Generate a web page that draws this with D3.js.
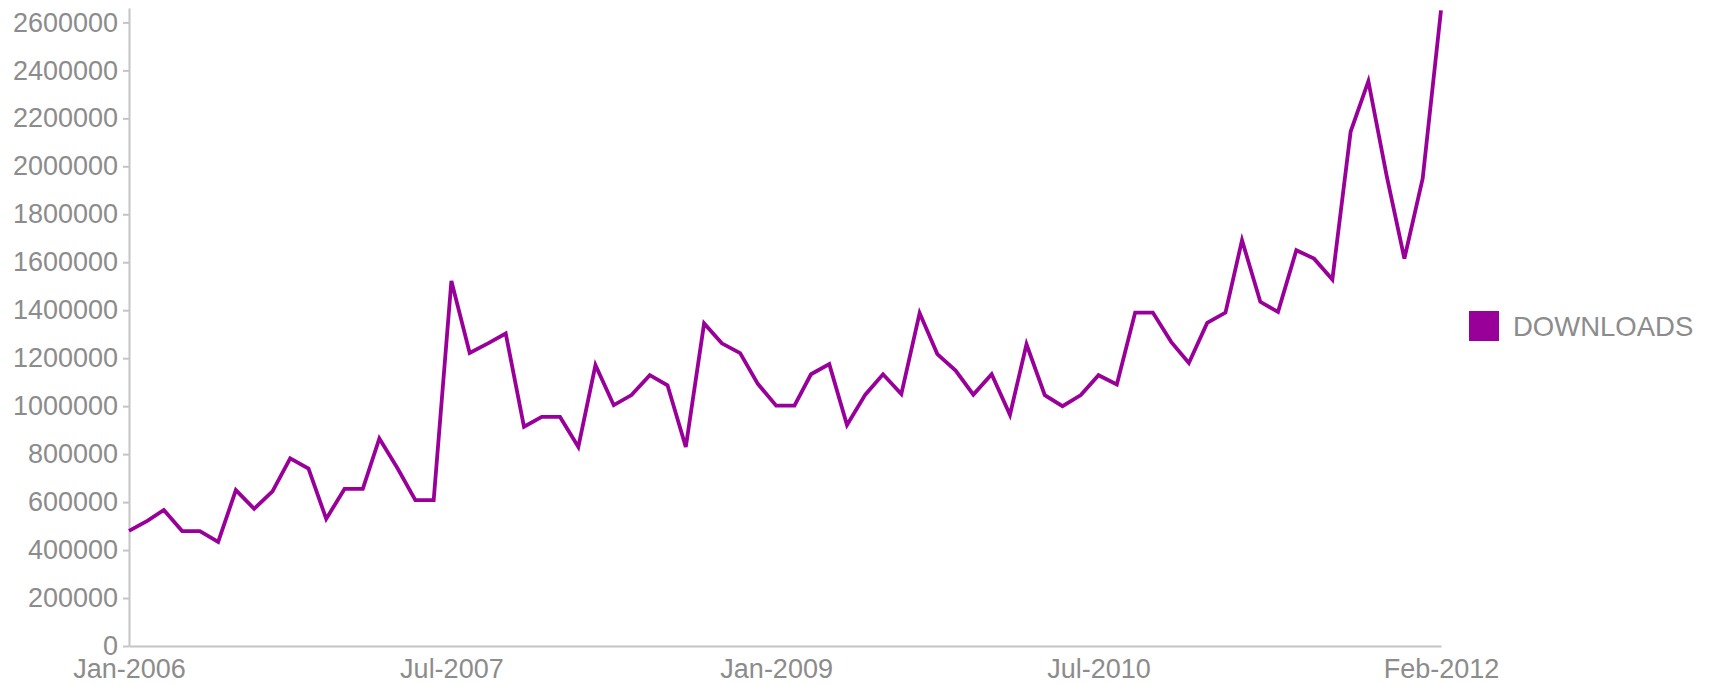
<!DOCTYPE html>
<html>
<head>
<meta charset="utf-8">
<script src="https://cdnjs.cloudflare.com/ajax/libs/d3/7.8.5/d3.min.js"></script>
<style>
  body { margin: 0; background: #fff; }
  svg { display: block; }
  .axis text { font-family: "Liberation Sans", Arial, sans-serif; font-size: 27px; fill: #8c8c8c; }
  .axis path, .axis line { stroke: #c4c4c4; stroke-width: 2; }
  .legend text { font-family: "Liberation Sans", Arial, sans-serif; font-size: 27.5px; fill: #8c8c8c; }
</style>
</head>
<body>
<svg id="chart" width="1713" height="684"></svg>
<script>
// monthly downloads, Jan-2006 .. Feb-2012
var startMonth = new Date(2006, 0, 1);
var downloads = [
  480000, 522000, 567000, 479000, 479000, 434000, 650000, 572000, 645000, 782000,
  740000, 530000, 655000, 655000, 865000, 740000, 608000, 608000, 1522000, 1222000,
  1262000, 1303000, 914000, 955000, 955000, 830000, 1171000, 1004000, 1046000, 1129000,
  1087000, 830000, 1345000, 1262000, 1221000, 1093000, 1002000, 1002000, 1133000, 1175000,
  921000, 1048000, 1133000, 1050000, 1388000, 1217000, 1148000, 1048000, 1133000, 964000,
  1258000, 1046000, 1000000, 1046000, 1129000, 1090000, 1390000, 1390000, 1268000, 1180000,
  1347000, 1390000, 1692000, 1435000, 1393000, 1650000, 1615000, 1528000, 2145000, 2355000,
  1960000, 1615000, 1949000, 2650000
];
var xTickMonths = [0, 18, 36, 54, 73];
var yTicks = d3.range(0, 2600001, 200000);
var seriesName = "DOWNLOADS";
var seriesColor = "#990099";

var svg = d3.select("#chart");
var plotLeft = 129, plotRight = 1441, plotTop = 8, plotBottom = 646;

var data = downloads.map(function (v, i) {
  return { date: d3.timeMonth.offset(startMonth, i), value: v };
});

var x = d3.scaleTime()
  .domain([data[0].date, data[data.length - 1].date])
  .range([plotLeft, plotRight]);

var y = d3.scaleLinear()
  .domain([0, 2660000])
  .range([plotBottom, plotTop]);

svg.append("g")
  .attr("class", "axis")
  .attr("transform", "translate(0," + plotBottom + ")")
  .call(d3.axisBottom(x)
    .tickValues(xTickMonths.map(function (m) { return data[m].date; }))
    .tickFormat(d3.timeFormat("%b-%Y"))
    .tickSize(0)
    .tickPadding(13));

svg.append("g")
  .attr("class", "axis")
  .attr("transform", "translate(" + plotLeft + ",0)")
  .call(d3.axisLeft(y)
    .tickValues(yTicks)
    .tickFormat(d3.format("d"))
    .tickSize(6)
    .tickSizeOuter(0)
    .tickPadding(5));

var line = d3.line()
  .x(function (d) { return x(d.date); })
  .y(function (d) { return y(d.value); });

svg.append("path")
  .datum(data)
  .attr("fill", "none")
  .attr("stroke", seriesColor)
  .attr("stroke-width", 3.8)
  .attr("stroke-linejoin", "miter")
  .attr("d", line);

var legend = svg.append("g").attr("class", "legend")
  .attr("transform", "translate(1469,311)");
legend.append("rect")
  .attr("width", 30).attr("height", 30)
  .attr("fill", seriesColor);
legend.append("text")
  .attr("x", 44).attr("y", 25)
  .text(seriesName);
</script>
</body>
</html>
